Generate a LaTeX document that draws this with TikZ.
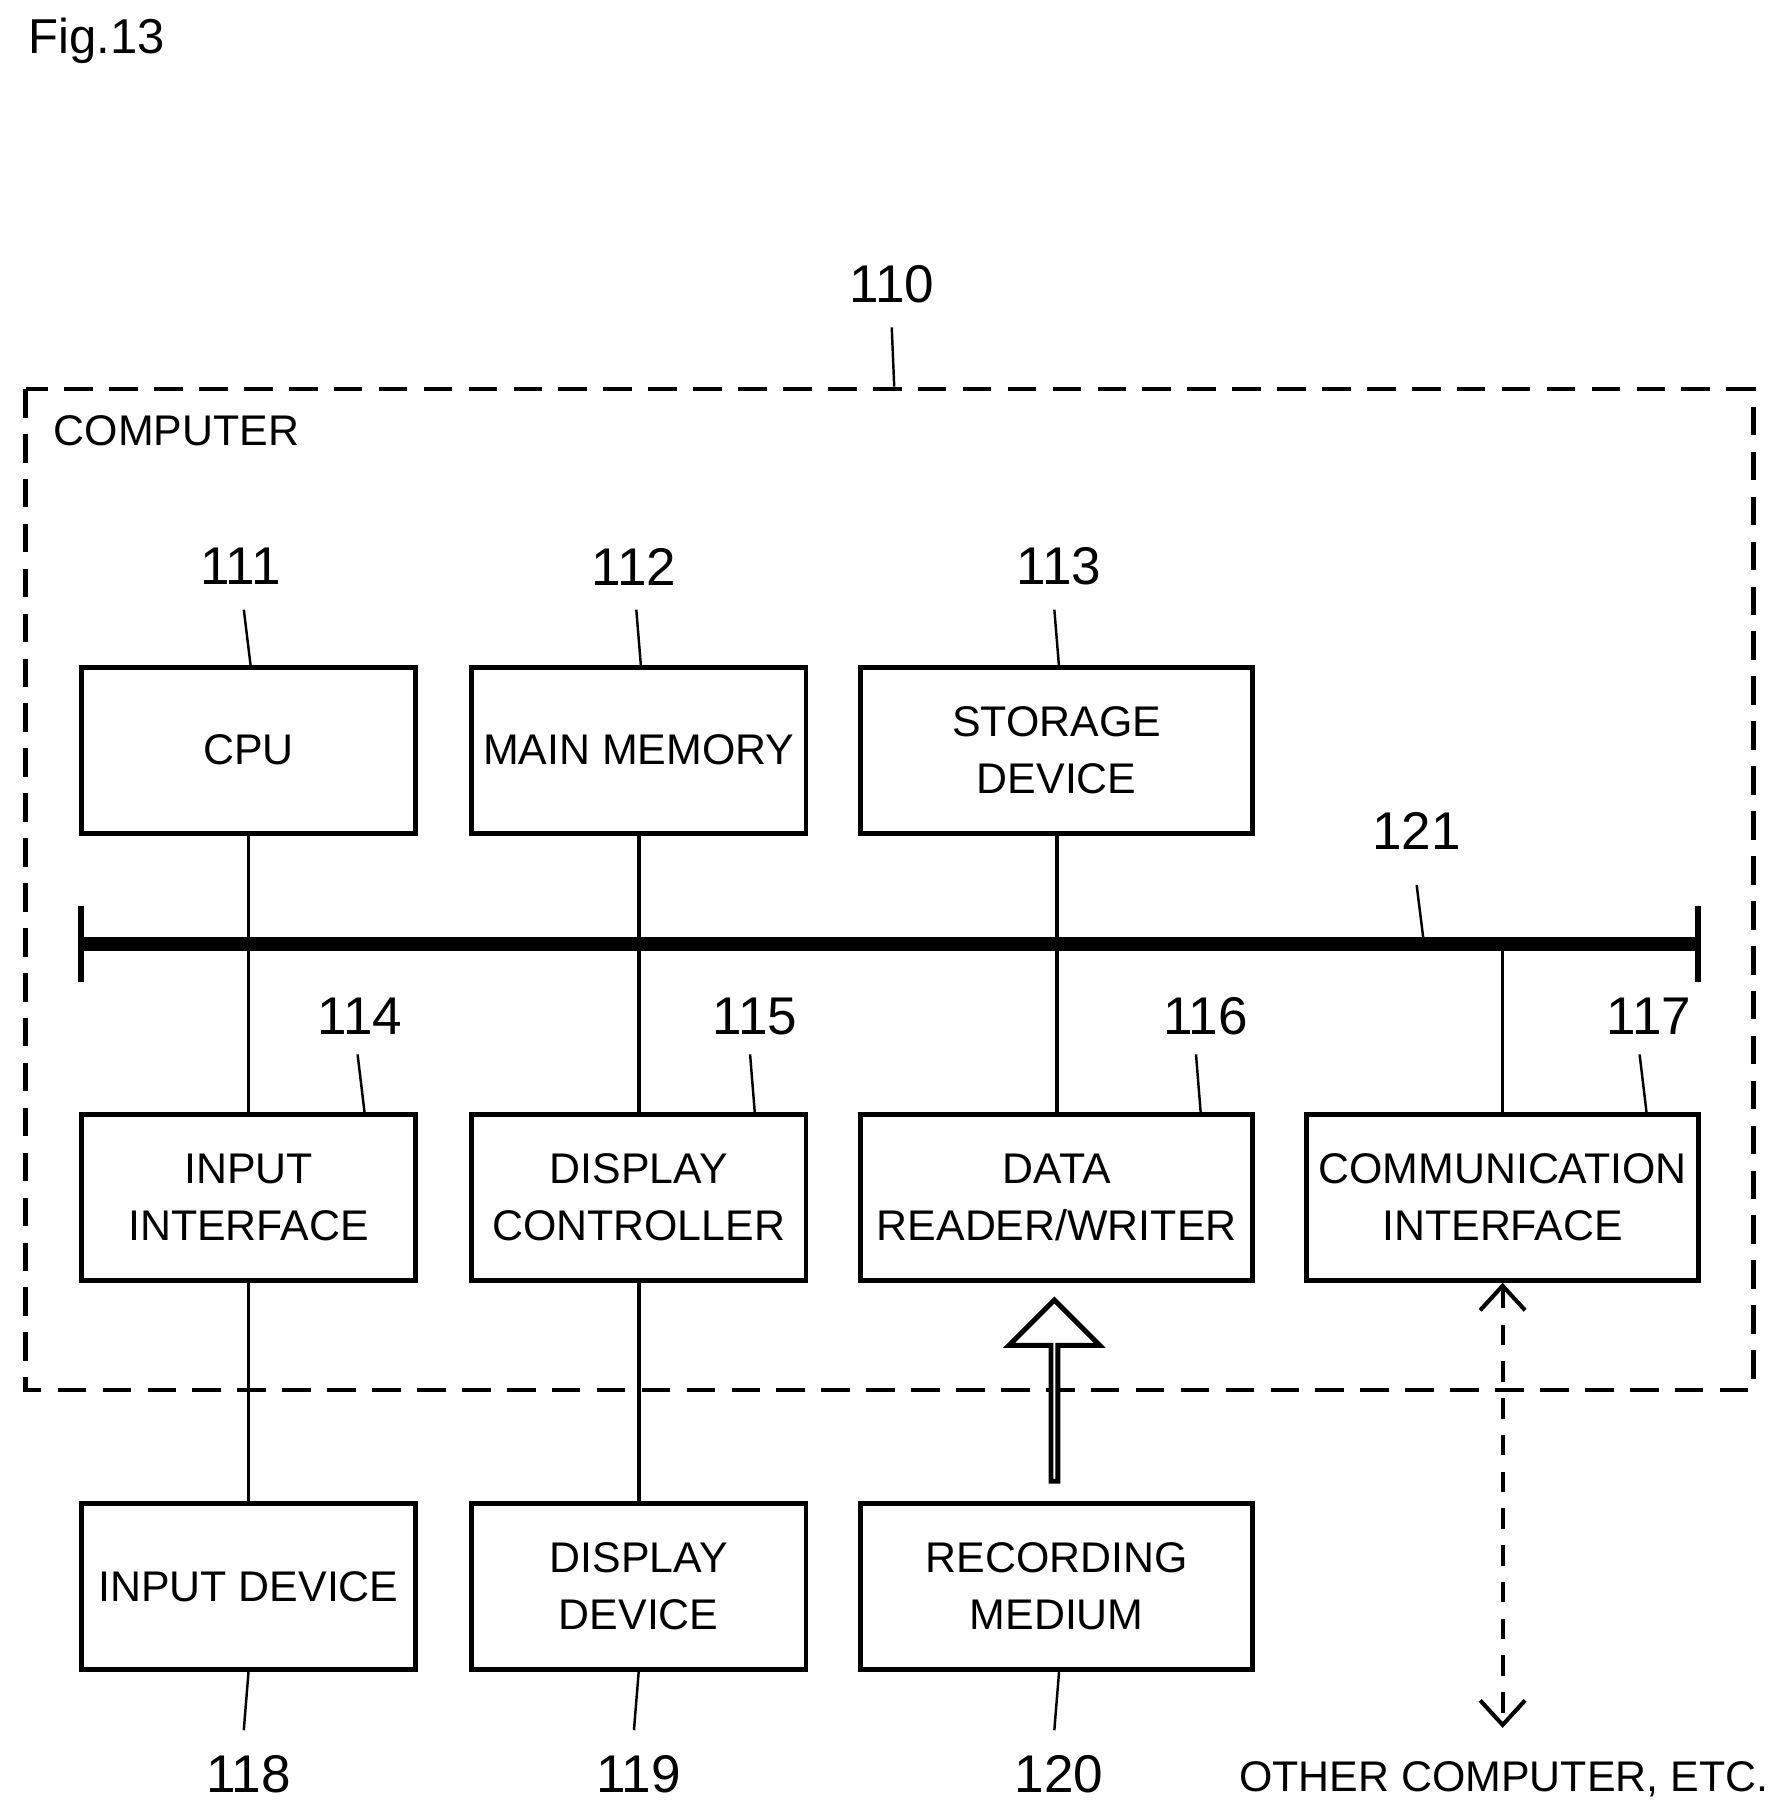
\documentclass[tikz,border=0pt]{standalone}
\usepackage{fontspec}
\setmainfont{Liberation Sans}
\usetikzlibrary{arrows.meta,shapes.arrows}
\tikzset{
  blk/.style={draw, line width=1.2pt, minimum width=2.88cm, minimum height=1.43cm, align=center, font=\fontsize{10.5}{14}\selectfont, inner sep=0pt},
  num/.style={font=\fontsize{13}{15}\selectfont},
  squig/.style={line width=0.6pt},
  conn/.style={line width=0.9pt},
}
\newcommand{\wiggle}[2]{\draw[squig] (#1) .. controls +(-0.16,-0.28) and +(0.16,0.28) .. (#2);}
\begin{document}
\begin{tikzpicture}[x=0.01cm,y=-0.01cm]
\useasboundingbox (0,0) rectangle (1530,1563);

\node[anchor=west, font=\fontsize{12}{14}\selectfont] (fig) at (12,35) {Fig.13};

% outer computer frame
\draw[line width=1.2pt, dash pattern=on 7pt off 4pt] (22,335) rectangle (1510,1197);
\node[anchor=west, font=\fontsize{10.5}{13}\selectfont] (comp) at (34,371) {COMPUTER};

% upper row
\node[blk] (cpu) at (214,646) {CPU};
\node[blk] (mem) at (550,646) {MAIN MEMORY};
\node[blk, minimum width=3.37cm] (stor) at (910,646) {STORAGE\\DEVICE};

% middle row
\node[blk] (inif) at (214,1031) {INPUT\\INTERFACE};
\node[blk] (dctl) at (550,1031) {DISPLAY\\CONTROLLER};
\node[blk, minimum width=3.37cm] (drw) at (910,1031) {DATA\\READER/WRITER};
\node[blk, minimum width=3.37cm] (cif) at (1294,1031) {COMMUNICATION\\INTERFACE};

% lower row
\node[blk] (indev) at (214,1366) {INPUT DEVICE};
\node[blk] (ddev) at (550,1366) {DISPLAY\\DEVICE};
\node[blk, minimum width=3.37cm] (rec) at (910,1366) {RECORDING\\MEDIUM};

% bus
\coordinate (busl) at (70,813);
\coordinate (busr) at (1462,813);
\draw[line width=3.5pt] (busl) -- (busr);
\draw[line width=1.5pt] (70,780) -- (70,846) (1462,780) -- (1462,846);

\draw[conn] (cpu.south) -- (inif.north);
\draw[conn] (mem.south) -- (dctl.north);
\draw[conn] (stor.south) -- (drw.north);
\draw[conn] (cif.north) -- (cif.north |- busl);
\draw[conn] (inif.south) -- (indev.north);
\draw[conn] (dctl.south) -- (ddev.north);

% hollow arrow
\node[draw, fill=white, line width=1.2pt, single arrow, shape border rotate=90, minimum height=1.56cm, minimum width=0.78cm, single arrow head extend=0.26cm, single arrow tip angle=90, inner sep=0pt] (harr) at (908,1199) {};

% other computer
\node[font=\fontsize{10.5}{13}\selectfont] (oth) at (1295,1532) {OTHER COMPUTER, ETC.};
\coordinate (othtop) at (1294,1488);
\draw[line width=1pt, dash pattern=on 5pt off 4pt, {Straight Barb[length=6pt,width=11pt]}-{Straight Barb[length=6pt,width=11pt]}] (cif.south) -- (othtop);

% reference numbers
\node[num] (n110) at (768,245) {110};
\node[num] (n111) at (207,488) {111};
\node[num] (n112) at (546,488) {112};
\node[num] (n113) at (912,488) {113};
\node[num] (n121) at (1220,716) {121};
\node[num] (n114) at (310,875) {114};
\node[num] (n115) at (650,875) {115};
\node[num] (n116) at (1038,875) {116};
\node[num] (n117) at (1420,875) {117};
\node[num] (n118) at (214,1528) {118};
\node[num] (n119) at (550,1528) {119};
\node[num] (n120) at (912,1528) {120};

\wiggle{768,282}{770,333}
\wiggle{210,525}{216,575}
\wiggle{548,525}{552,575}
\wiggle{908,525}{912,575}
\wiggle{1220,762}{1226,811}
\wiggle{308,908}{314,959}
\wiggle{646,908}{650,959}
\wiggle{1030,908}{1034,959}
\wiggle{1412,908}{1418,959}
\wiggle{210,1490}{214,1439}
\wiggle{546,1490}{550,1439}
\wiggle{908,1490}{912,1439}
\end{tikzpicture}
\end{document}
